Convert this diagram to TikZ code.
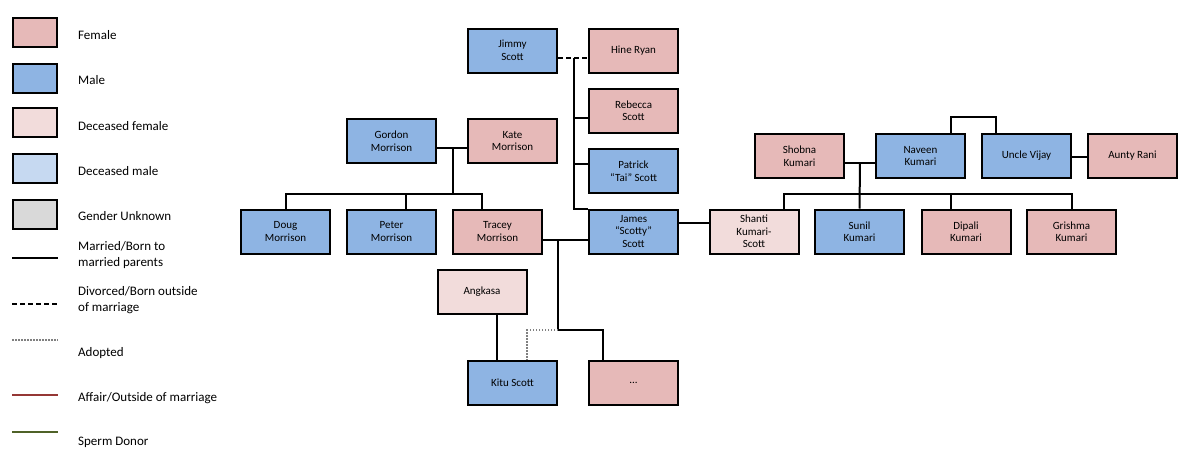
\documentclass[tikz,border=0pt]{standalone}
\usepackage{fontspec}
\setmainfont{Carlito}
\definecolor{female}{HTML}{E6B9B8}
\definecolor{male}{HTML}{8EB4E3}
\definecolor{deadFemale}{HTML}{F2DCDB}
\definecolor{deadMale}{HTML}{C6D9F1}
\definecolor{unknown}{HTML}{D9D9D9}
\definecolor{affair}{HTML}{953735}
\definecolor{donor}{HTML}{4F6228}
\definecolor{adoptGray}{HTML}{808080}
\tikzset{
    person/.style={draw, line width=2pt, minimum width=89pt, minimum height=44pt, inner sep=1pt, align=center, font=\fontsize{11}{12.5}\selectfont},
    femaleBox/.style={person, fill=female},
    maleBox/.style={person, fill=male},
    deadFemaleBox/.style={person, fill=deadFemale},
    keyBox/.style={draw, line width=2pt, minimum width=44pt, minimum height=29pt},
    keyText/.style={anchor=west, align=left, inner sep=0pt, font=\fontsize{13}{16}\selectfont},
    married/.style={line width=2pt},
    divorced/.style={line width=2pt, dash pattern=on 5pt off 3pt},
    adopted/.style={line width=1.5pt, adoptGray, dash pattern=on 1.5pt off 1.5pt}
}

\begin{document}
\begin{tikzpicture}[x=1pt, y=-1pt]
            \fill[white] (0,0) rectangle (1183,459);
            \useasboundingbox (0,0) rectangle (1183,459);

            \node[keyBox, fill=female] (keyFemale) at (35,32.5) {};
            \node[keyBox, fill=male] (keyMale) at (35,78) {};
            \node[keyBox, fill=deadFemale] (keyDeadFemale) at (35,122.5) {};
            \node[keyBox, fill=deadMale] (keyDeadMale) at (35,168.5) {};
            \node[keyBox, fill=unknown] (keyUnknown) at (35,214) {};
            \node[keyText] (txtFemale) at (78,35) {Female};
            \node[keyText] (txtMale) at (78,80) {Male};
            \node[keyText] (txtDeadFemale) at (78,126) {Deceased female};
            \node[keyText] (txtDeadMale) at (78,171) {Deceased male};
            \node[keyText] (txtUnknown) at (78,216) {Gender Unknown};
            \node[keyText] (txtMarried) at (78,255) {Married/Born to\\married parents};
            \node[keyText] (txtDivorced) at (78,300) {Divorced/Born outside\\of marriage};
            \node[keyText] (txtAdopted) at (78,353) {Adopted};
            \node[keyText] (txtAffair) at (78,398) {Affair/Outside of marriage};
            \node[keyText] (txtDonor) at (78,442) {Sperm Donor};
            \draw[married] (12,258) -- (58,258);
            \draw[divorced] (12,304) -- (58,304);
            \draw[adopted] (12,340) -- (58,340);
            \draw[line width=1.5pt, affair] (12,395) -- (58,395);
            \draw[line width=1.5pt, donor] (12,432) -- (58,432);

            \node[maleBox] (jimmy) at (512.5,50.5) {Jimmy\\Scott};
            \node[femaleBox] (hine) at (633.5,50.5) {Hine Ryan};
            \node[femaleBox] (rebecca) at (633.5,110.5) {Rebecca\\Scott};
            \node[maleBox] (patrick) at (633.5,171) {Patrick\\``Tai'' Scott};
            \node[maleBox] (gordon) at (391.5,141) {Gordon\\Morrison};
            \node[femaleBox] (kate) at (512.5,141) {Kate\\Morrison};
            \node[maleBox] (doug) at (285.5,231.5) {Doug\\Morrison};
            \node[maleBox] (peter) at (391.5,231.5) {Peter\\Morrison};
            \node[femaleBox] (tracey) at (497.5,231.5) {Tracey\\Morrison};
            \node[maleBox] (james) at (633.5,231.5) {James\\``Scotty''\\Scott};
            \node[deadFemaleBox] (angkasa) at (482,292) {Angkasa};
            \node[maleBox] (kitu) at (512.5,383) {Kitu Scott};
            \node[femaleBox] (dots) at (633.5,383) {...};
            \node[deadFemaleBox] (shanti) at (754,231.5) {Shanti\\Kumari-\\Scott};
            \node[maleBox] (sunil) at (859.5,231.5) {Sunil\\Kumari};
            \node[femaleBox] (dipali) at (966,231.5) {Dipali\\Kumari};
            \node[femaleBox] (grishma) at (1071.5,231.5) {Grishma\\Kumari};
            \node[femaleBox] (shobna) at (799.5,156) {Shobna\\Kumari};
            \node[maleBox] (naveen) at (920.5,156) {Naveen\\Kumari};
            \node[maleBox] (vijay) at (1026.5,156) {Uncle Vijay};
            \node[femaleBox] (rani) at (1132.5,156) {Aunty Rani};

            \coordinate (jimmyHine) at (574,58);
            \coordinate (gordonKate) at (453,148);
            \coordinate (morrisonBus) at (453,194);
            \coordinate (traceyJames) at (558,240);
            \coordinate (scottKids) at (558,330);
            \coordinate (shobnaNaveen) at (860,163);
            \coordinate (kumariBus) at (860,194);

            \draw[divorced] ([yshift=-7.5pt]jimmy.east) -- ([yshift=-7.5pt]hine.west);
            \draw[married] (jimmyHine) |- ([yshift=-7.5pt]rebecca.west);
            \draw[married] (jimmyHine) |- ([yshift=7pt]patrick.west);
            \draw[married] (jimmyHine) |- ([yshift=22.5pt]james.west);

            \draw[married] ([yshift=-7pt]gordon.east) -- ([yshift=-7pt]kate.west);
            \draw[married] (gordonKate) -- (morrisonBus);
            \draw[married] (doug.north) |- (morrisonBus) -| ([xshift=-15.5pt]tracey.north);
            \draw[married] ([xshift=14.5pt]peter.north) -- ([xshift=14.5pt]peter.north |- morrisonBus);

            \draw[married] ([yshift=-8.5pt]tracey.east) -- ([yshift=-8.5pt]james.west);
            \draw[married] (traceyJames) -- (scottKids) -| ([xshift=-30.5pt]dots.north);
            \draw[adopted] (scottKids) -| ([xshift=14.5pt]kitu.north);
            \draw[married] ([xshift=15pt]angkasa.south) -- ([xshift=-15.5pt]kitu.north);

            \draw[married] ([yshift=8.5pt]james.east) -- ([yshift=8.5pt]shanti.west);

            \draw[married] ([yshift=-7pt]shobna.east) -- ([yshift=-7pt]naveen.west);
            \draw[married] (shobnaNaveen) -- (sunil.north);
            \draw[married] ([xshift=30pt]shanti.north) |- (kumariBus) -| (grishma.north);
            \draw[married] ([xshift=-15pt]dipali.north) -- ([xshift=-15pt]dipali.north |- kumariBus);
            \draw[married] ([xshift=30.5pt]naveen.north) -- ++(0,-16) -| ([xshift=-30.5pt]vijay.north);
            \draw[married] ([yshift=-1pt]vijay.east) -- ([yshift=-1pt]rani.west);
        \end{tikzpicture}
\end{document}
